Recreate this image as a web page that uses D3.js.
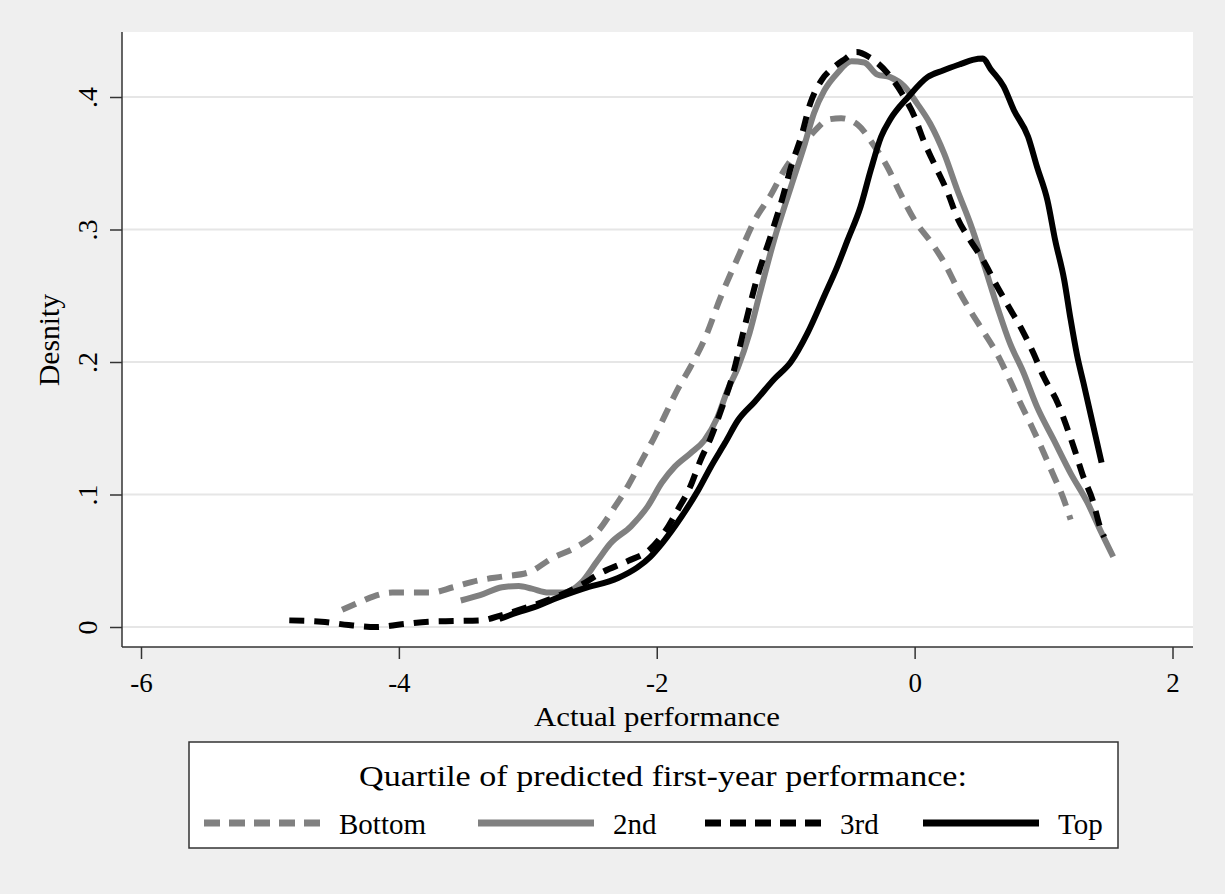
<!DOCTYPE html>
<html>
<head>
<meta charset="utf-8">
<script src="https://cdn.jsdelivr.net/npm/d3@7"></script>
<style>
  html, body { margin: 0; padding: 0; background: #efefef; }
  svg { display: block; }
  text { font-family: "Liberation Serif", "Times New Roman", serif; fill: #000; }
</style>
</head>
<body>
<svg id="chart" width="1225" height="894"></svg>
<script>
// Kernel density estimates of actual performance, by quartile of predicted first-year performance
const quartiles = ["Bottom", "2nd", "3rd", "Top"];

const bottomX = [-4.44,-4.30,-4.20,-4.05,-3.90,-3.75,-3.58,-3.39,-3.20,-3.00,-2.81,-2.63,-2.45,-2.33,-2.22,-2.12,-2.02,-1.93,-1.84,-1.74,-1.63,-1.50,-1.37,-1.24,-1.11,-1.01,-0.88,-0.77,-0.67,-0.57,-0.44,-0.32,-0.21,-0.11,0.00,0.13,0.23,0.33,0.43,0.54,0.64,0.74,0.82,0.91,0.99,1.07,1.15,1.21];
const bottomY = [0.013,0.019,0.023,0.026,0.026,0.026,0.030,0.035,0.038,0.041,0.052,0.060,0.073,0.090,0.107,0.125,0.143,0.161,0.179,0.196,0.217,0.250,0.279,0.307,0.327,0.345,0.362,0.375,0.383,0.384,0.379,0.364,0.347,0.327,0.307,0.290,0.275,0.256,0.239,0.222,0.206,0.186,0.169,0.151,0.134,0.116,0.098,0.081];

const secondX = [-3.52,-3.37,-3.20,-3.07,-2.97,-2.84,-2.72,-2.59,-2.46,-2.36,-2.20,-2.07,-1.96,-1.86,-1.74,-1.63,-1.53,-1.45,-1.37,-1.28,-1.20,-1.09,-0.96,-0.86,-0.78,-0.70,-0.60,-0.49,-0.39,-0.29,-0.19,-0.08,0.02,0.12,0.23,0.33,0.43,0.53,0.64,0.74,0.84,0.95,1.08,1.21,1.34,1.44,1.54];
const secondY = [0.020,0.024,0.030,0.031,0.029,0.026,0.026,0.033,0.050,0.063,0.076,0.091,0.109,0.121,0.131,0.141,0.158,0.179,0.196,0.222,0.252,0.292,0.332,0.362,0.388,0.405,0.418,0.427,0.426,0.417,0.415,0.408,0.395,0.380,0.357,0.330,0.305,0.276,0.242,0.214,0.193,0.166,0.141,0.116,0.094,0.073,0.053];

const thirdX = [-4.85,-4.60,-4.39,-4.18,-3.98,-3.77,-3.56,-3.36,-3.20,-3.00,-2.80,-2.60,-2.43,-2.22,-2.06,-1.93,-1.84,-1.74,-1.66,-1.58,-1.50,-1.42,-1.32,-1.22,-1.11,-1.03,-0.95,-0.88,-0.81,-0.72,-0.62,-0.55,-0.45,-0.35,-0.21,-0.10,0.00,0.07,0.15,0.26,0.33,0.43,0.53,0.64,0.74,0.84,0.92,1.00,1.11,1.18,1.24,1.31,1.38,1.44,1.47];
const thirdY = [0.005,0.004,0.0015,0.000,0.002,0.004,0.0045,0.005,0.009,0.015,0.022,0.031,0.041,0.050,0.058,0.073,0.088,0.106,0.126,0.143,0.164,0.187,0.226,0.264,0.297,0.322,0.350,0.370,0.395,0.413,0.423,0.428,0.434,0.430,0.418,0.403,0.385,0.367,0.350,0.327,0.309,0.292,0.277,0.257,0.240,0.223,0.207,0.189,0.169,0.151,0.134,0.113,0.096,0.075,0.068];

const topX = [-3.22,-3.08,-2.95,-2.80,-2.57,-2.30,-2.15,-2.05,-1.96,-1.81,-1.68,-1.58,-1.47,-1.37,-1.24,-1.09,-0.96,-0.83,-0.70,-0.60,-0.52,-0.42,-0.34,-0.26,-0.19,-0.05,0.10,0.22,0.36,0.45,0.53,0.59,0.69,0.77,0.88,0.95,1.03,1.09,1.16,1.21,1.26,1.31,1.38,1.45];
const topY = [0.006,0.011,0.015,0.021,0.029,0.037,0.045,0.053,0.063,0.083,0.103,0.121,0.139,0.156,0.170,0.187,0.200,0.222,0.250,0.272,0.292,0.317,0.345,0.370,0.383,0.400,0.415,0.420,0.425,0.428,0.429,0.421,0.408,0.390,0.370,0.347,0.322,0.292,0.262,0.232,0.205,0.184,0.154,0.124];

const xTicks = [-6, -4, -2, 0, 2];
const yTicks = [0, 0.1, 0.2, 0.3, 0.4];
const yTickLabels = ["0", ".1", ".2", ".3", ".4"];

const xTitle = "Actual performance";
const yTitle = "Desnity";
const legendTitle = "Quartile of predicted first-year performance:";

const seriesX = [bottomX, secondX, thirdX, topX];
const seriesY = [bottomY, secondY, thirdY, topY];
const series = quartiles.map((name, i) => ({
  name,
  points: seriesX[i].map((x, j) => [x, seriesY[i][j]])
}));

// line styles per quartile
const styles = {
  "Bottom": { color: "#808080", dash: "15,10" },
  "2nd":    { color: "#808080", dash: null },
  "3rd":    { color: "#000000", dash: "15,10" },
  "Top":    { color: "#000000", dash: null }
};

const svg = d3.select("#chart");
const W = 1225, H = 894;
svg.append("rect").attr("width", W).attr("height", H).attr("fill", "#efefef");

const plot = { left: 122, right: 1193, top: 32, bottom: 647 };
const x = d3.scaleLinear().domain([-6, 2]).range([141, 1172.5]);
const y = d3.scaleLinear().domain([0, 0.4]).range([627, 97]);

// plot region
svg.append("rect")
  .attr("x", plot.left).attr("y", plot.top)
  .attr("width", plot.right - plot.left).attr("height", plot.bottom - plot.top)
  .attr("fill", "#ffffff");

// horizontal grid
svg.append("g").selectAll("line").data(yTicks).join("line")
  .attr("x1", plot.left).attr("x2", plot.right)
  .attr("y1", d => y(d)).attr("y2", d => y(d))
  .attr("stroke", "#e6e6e6").attr("stroke-width", 2);

// density curves
const line = d3.line().x(d => x(d[0])).y(d => y(d[1])).curve(d3.curveMonotoneX);
svg.append("g").selectAll("path").data(series).join("path")
  .attr("d", d => line(d.points))
  .attr("fill", "none")
  .attr("stroke", d => styles[d.name].color)
  .attr("stroke-width", 6)
  .attr("stroke-linejoin", "round")
  .attr("stroke-dasharray", d => styles[d.name].dash);

// y axis
const yAxis = svg.append("g").attr("transform", `translate(${plot.left},0)`)
  .call(d3.axisLeft(y).tickValues(yTicks).tickSize(12).tickFormat((d, i) => yTickLabels[i]));
yAxis.select(".domain").attr("d", `M0,${plot.top}V${plot.bottom}`).attr("stroke", "#333").attr("stroke-width", 1.5);
yAxis.selectAll(".tick line").attr("stroke", "#333").attr("stroke-width", 1.5);
yAxis.selectAll(".tick text")
  .attr("x", null).attr("dy", null)
  .attr("font-size", 28)
  .attr("text-anchor", "middle")
  .attr("transform", "translate(-25,0) rotate(-90)")
  .attr("y", 0)
  .style("font-family", "Liberation Serif");

// x axis
const xAxis = svg.append("g").attr("transform", `translate(0,${plot.bottom})`)
  .call(d3.axisBottom(x).tickValues(xTicks).tickSize(12).tickFormat(d => d < 0 ? "-" + Math.abs(d) : String(d)));
xAxis.select(".domain").attr("d", `M${plot.left},0H${plot.right}`).attr("stroke", "#333").attr("stroke-width", 1.5);
xAxis.selectAll(".tick line").attr("stroke", "#333").attr("stroke-width", 1.5);
xAxis.selectAll(".tick text")
  .attr("y", 45).attr("dy", null)
  .attr("font-size", 27)
  .style("font-family", "Liberation Serif");

// axis titles
svg.append("text")
  .attr("x", 657).attr("y", 726)
  .attr("text-anchor", "middle").attr("font-size", 28)
  .attr("textLength", 246).attr("lengthAdjust", "spacingAndGlyphs")
  .text(xTitle);

svg.append("text")
  .attr("transform", "translate(59,340) rotate(-90)")
  .attr("text-anchor", "middle").attr("font-size", 29)
  .attr("textLength", 92).attr("lengthAdjust", "spacingAndGlyphs")
  .text(yTitle);

// legend
const lg = svg.append("g");
lg.append("rect")
  .attr("x", 189).attr("y", 742).attr("width", 929).attr("height", 106)
  .attr("fill", "#ffffff").attr("stroke", "#333").attr("stroke-width", 1.5);
lg.append("text")
  .attr("x", 663).attr("y", 786)
  .attr("text-anchor", "middle").attr("font-size", 30)
  .attr("textLength", 608).attr("lengthAdjust", "spacingAndGlyphs")
  .text(legendTitle);

const keyStarts = [204, 478, 705, 923];
const keyLen = 116;
const keyY = 823;
const items = lg.selectAll("g.item").data(quartiles).join("g").attr("class", "item");
items.append("line")
  .attr("x1", (d, i) => keyStarts[i]).attr("x2", (d, i) => keyStarts[i] + keyLen)
  .attr("y1", keyY).attr("y2", keyY)
  .attr("stroke", d => styles[d].color)
  .attr("stroke-width", 7)
  .attr("stroke-dasharray", d => styles[d].dash ? "16,9" : null);
items.append("text")
  .attr("x", (d, i) => keyStarts[i] + keyLen + 19)
  .attr("y", keyY + 11)
  .attr("font-size", 29)
  .text(d => d);
</script>
</body>
</html>
